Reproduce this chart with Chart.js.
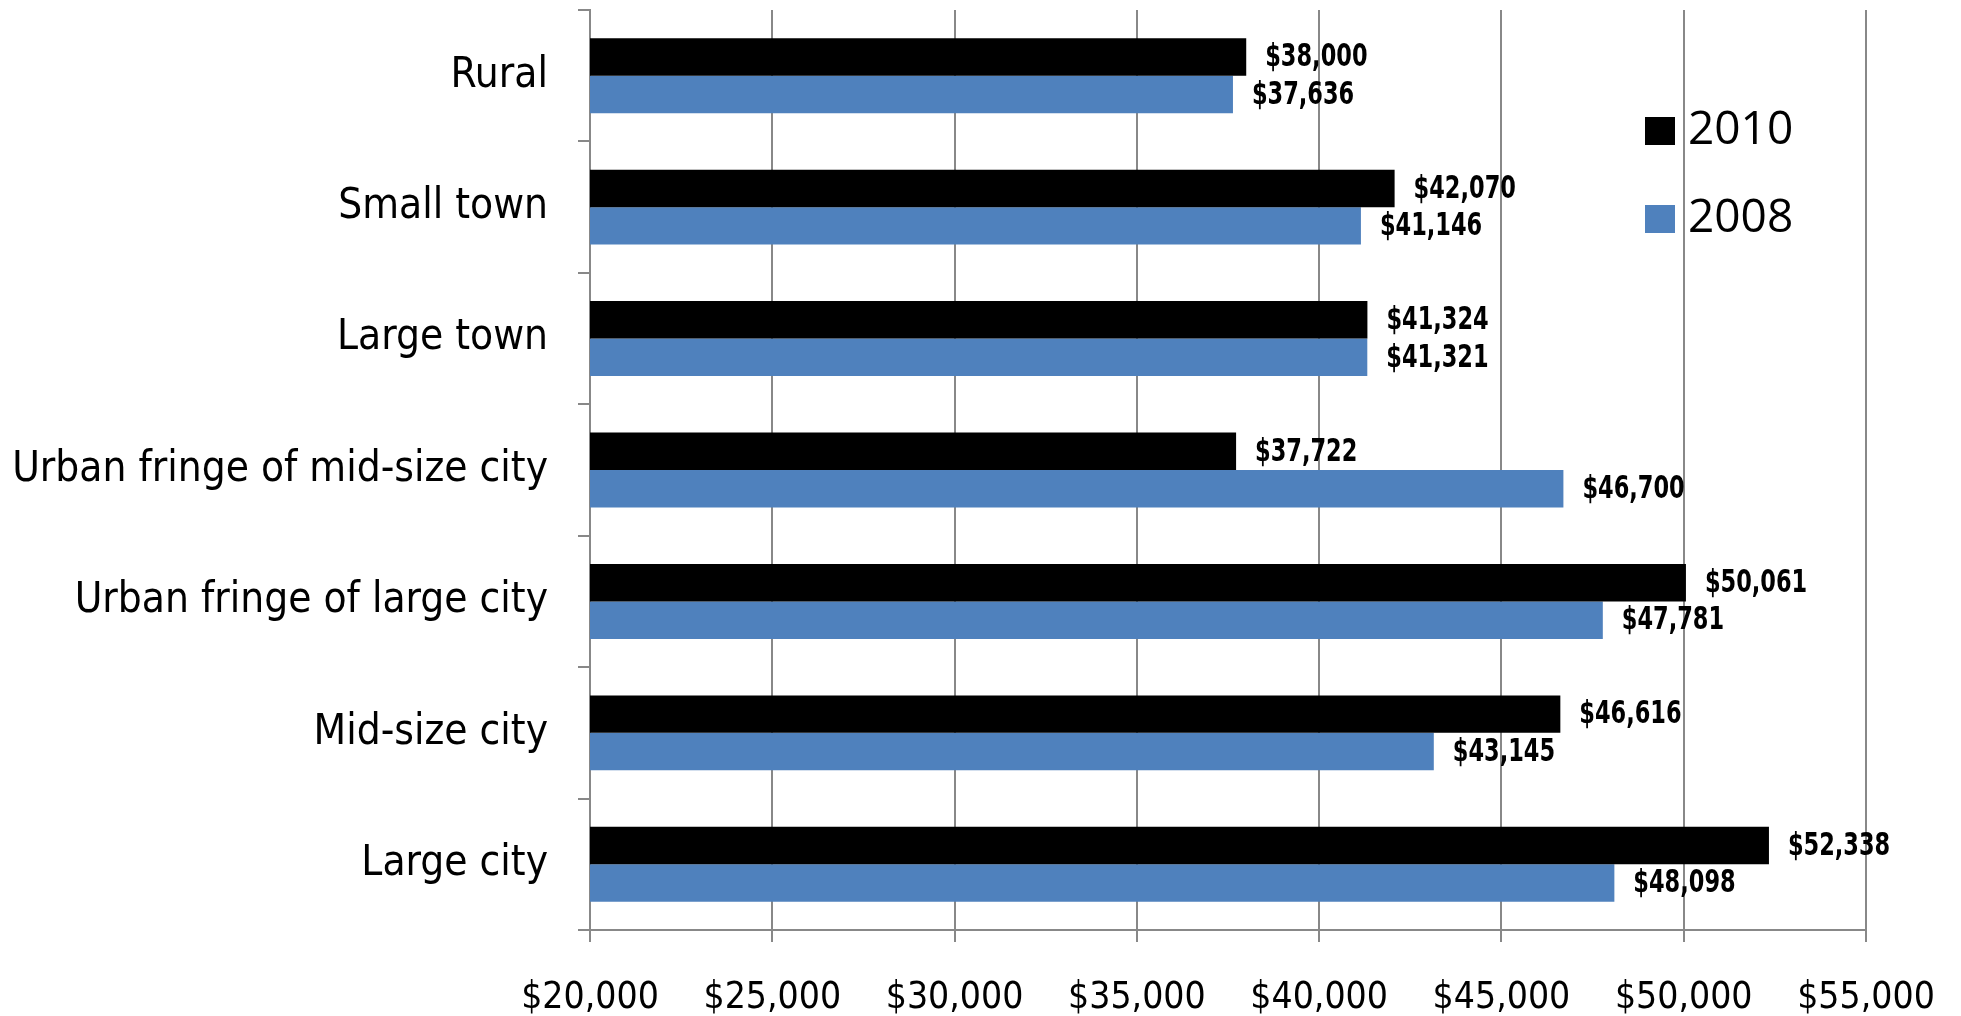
<!DOCTYPE html>
<html>
<head>
<meta charset="utf-8">
<script src="https://cdn.jsdelivr.net/npm/chart.js@4.4.1/dist/chart.umd.min.js"></script>
<style>
  html, body { margin: 0; padding: 0; background: #fff; }
  #wrap { width: 1961px; height: 1016px; }
</style>
</head>
<body>
<div id="wrap"><canvas id="canvasIncome"></canvas></div>
<script>
// data
var categories = ['Rural', 'Small town', 'Large town', 'Urban fringe of mid-size city',
                  'Urban fringe of large city', 'Mid-size city', 'Large city'];
var values2010 = [38000, 42070, 41324, 37722, 50061, 46616, 52338];
var values2008 = [37636, 41146, 41321, 46700, 47781, 43145, 48098];
var seriesNames = ['2010', '2008'];
var tickMin = 20000, tickMax = 55000, tickStep = 5000;

var narrow = '"Liberation Sans Narrow", "DejaVu Sans Condensed", "Arial Narrow", sans-serif';

function money(v) {
  return '$' + Number(v).toLocaleString('en-US');
}

// value labels next to each bar (squeezed a bit to look condensed)
var barLabels = {
  id: 'barLabels',
  afterDatasetsDraw: function(chart) {
    var ctx = chart.ctx;
    chart.data.datasets.forEach(function(ds, i) {
      var meta = chart.getDatasetMeta(i);
      meta.data.forEach(function(bar, j) {
        ctx.save();
        ctx.translate(bar.x + 19, bar.y + 1);
        ctx.scale(0.78, 1);
        ctx.font = 'bold 32px ' + narrow;
        ctx.fillStyle = '#000';
        ctx.textAlign = 'left';
        ctx.textBaseline = 'middle';
        ctx.fillText(money(ds.data[j]), 0, 0);
        ctx.restore();
      });
    });
  }
};

// legend sitting inside the plot, top right
var cornerLegend = {
  id: 'cornerLegend',
  afterDraw: function(chart) {
    var ctx = chart.ctx;
    ctx.save();
    ctx.font = '46px "Open Sans", "Noto Sans", sans-serif';
    ctx.textBaseline = 'middle';
    ctx.textAlign = 'left';
    chart.data.datasets.forEach(function(ds, i) {
      var y = 131 + i * 88;
      ctx.fillStyle = ds.backgroundColor;
      ctx.fillRect(1645, y - 14, 30, 28);
      ctx.fillStyle = '#000';
      ctx.fillText(ds.label, 1688, y);
    });
    ctx.restore();
  }
};

var chartdata = {
  labels: categories,
  datasets: [
    {
      label: seriesNames[0],
      backgroundColor: '#000000',
      data: values2010,
      barPercentage: 1.0,
      categoryPercentage: 0.57
    },
    {
      label: seriesNames[1],
      backgroundColor: '#4F81BD',
      data: values2008,
      barPercentage: 1.0,
      categoryPercentage: 0.57
    }
  ]
};

var ctx = document.getElementById('canvasIncome');

var barGraph = new Chart(ctx, {
  type: 'bar',
  data: chartdata,
  plugins: [barLabels, cornerLegend],
  options: {
    indexAxis: 'y',
    responsive: true,
    maintainAspectRatio: false,
    animation: false,
    layout: { padding: { top: 10, right: 95, left: 0, bottom: 0 } },
    plugins: {
      legend: { display: false },
      tooltip: { enabled: false }
    },
    scales: {
      x: {
        type: 'linear',
        min: tickMin,
        max: tickMax,
        ticks: {
          stepSize: tickStep,
          color: '#000',
          font: { family: narrow, size: 37 },
          padding: 34,
          callback: function(v) { return money(v); }
        },
        grid: { color: '#888', lineWidth: 2, tickLength: 12 },
        border: { color: '#888', width: 2 },
        afterFit: function(scale) {
          scale.height = 86;
          scale.paddingLeft = 0;
          scale.paddingRight = 0;
        }
      },
      y: {
        ticks: {
          color: '#000',
          font: { family: narrow, size: 42 },
          padding: 30
        },
        grid: { drawOnChartArea: false, color: '#888', lineWidth: 2, tickLength: 12, offset: true },
        border: { color: '#888', width: 2 },
        afterFit: function(scale) {
          scale.width = 590;
          scale.paddingTop = 0;
          scale.paddingBottom = 0;
        }
      }
    }
  }
});
</script>
</body>
</html>
